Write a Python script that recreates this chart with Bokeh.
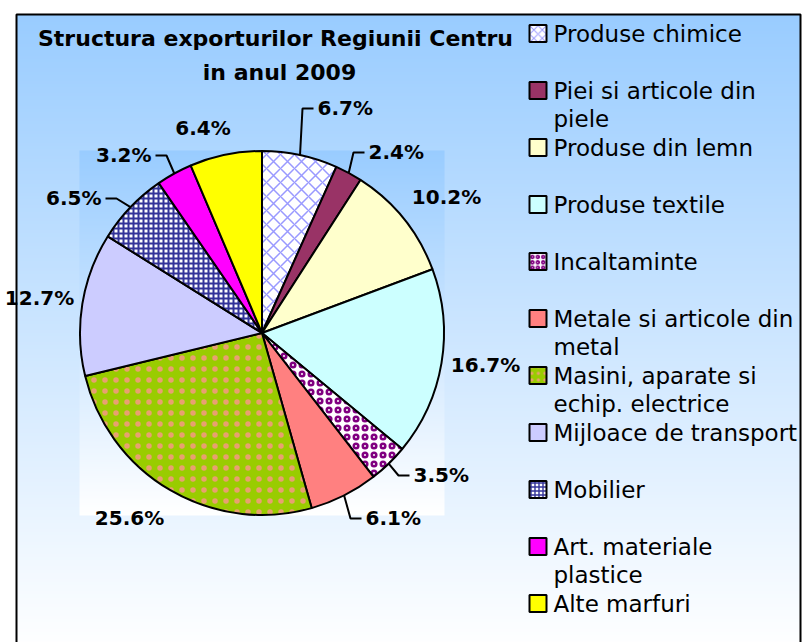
import math
import numpy as np
from bokeh.plotting import figure
from bokeh.models import Range1d
from bokeh.embed import file_html
from bokeh.resources import INLINE
from bokeh.core.properties import value

# ---------------- data ----------------
categories = [
    "Produse chimice",
    "Piei si articole din\npiele",
    "Produse din lemn",
    "Produse textile",
    "Incaltaminte",
    "Metale si articole din\nmetal",
    "Masini, aparate si\nechip. electrice",
    "Mijloace de transport",
    "Mobilier",
    "Art. materiale\nplastice",
    "Alte marfuri",
]
shares = [6.7, 2.4, 10.2, 16.7, 3.5, 6.1, 25.6, 12.7, 6.5, 3.2, 6.4]
title_lines = ["Structura exporturilor Regiunii Centru", "in anul 2009"]

# ---------------- styles ----------------
fill_colors = ["#FFFFFF", "#993366", "#FFFFCC", "#CCFFFF", "#FFFFFF", "#FF8080",
               "#99CC00", "#CCCCFF", "#FFFFFF", "#FF00FF", "#FFFF00"]
hatch_patterns = ["diagonal_cross", None, None, None, "ring", None,
                  "dot", None, "cross", None, None]
hatch_colors = ["#9999FF", None, None, None, "#800080", None,
                "#E8A070", None, "#333399", None, None]
hatch_scales = [14, 1, 1, 1, 9, 1, 11, 1, 5, 1, 1]
hatch_weights = [1.5, 1, 1, 1, 2.5, 1, 2, 1, 2, 1, 1]

# label layout: (x anchor, center y in screen px, align, leader)
label_layout = [
    (317, 108, "left", True),
    (368, 152, "left", True),
    (446, 197, "center", False),
    (485, 365, "center", False),
    (413, 475, "left", True),
    (365, 518, "left", True),
    (129, 518, "center", False),
    (39, 298, "center", False),
    (101, 198, "right", True),
    (151, 155, "right", True),
    (202.5, 128, "center", False),
]

W, H = 802, 642
TXT_SHIFT = 8  # compensation for text baseline placement


def Y(sy):
    return H - sy


FONT = value("DejaVu Sans")

p = figure(width=W, height=H, x_range=Range1d(0, W), y_range=Range1d(0, H),
           output_backend="svg", toolbar_location=None, min_border=0,
           x_axis_type=None, y_axis_type=None)
p.grid.visible = False
p.outline_line_color = None
p.background_fill_color = "white"
p.border_fill_color = "white"


def grad_img(n, top, bottom):
    img = np.empty((n, 1), dtype=np.uint32)
    view = img.view(dtype=np.uint8).reshape((n, 1, 4))
    for i in range(n):
        t = i / (n - 1)
        for k in range(3):
            view[i, 0, k] = int(round(bottom[k] + (top[k] - bottom[k]) * t))
        view[i, 0, 3] = 255
    return img


SKY = (153, 204, 255)
WHITE = (255, 255, 255)

# chart area gradient
outer_top, outer_bottom = 14, 650
p.image_rgba(image=[grad_img(outer_bottom - outer_top, SKY, WHITE)],
             x=16, y=Y(outer_bottom), dw=800 - 16, dh=outer_bottom - outer_top)

# plot area gradient
pa_left, pa_right, pa_top, pa_bottom = 79, 444, 150, 515
p.image_rgba(image=[grad_img(pa_bottom - pa_top, SKY, WHITE)],
             x=pa_left, y=Y(pa_bottom), dw=pa_right - pa_left, dh=pa_bottom - pa_top)

# frame border
p.quad(left=[16], right=[800], top=[Y(14)], bottom=[Y(680)],
       fill_color=None, line_color="black", line_width=2)

# ---------------- pie ----------------
cx, cy, R = 261.5, Y(332.5), 182
total = sum(shares)
cum = 0.0
mids = []
for i, s in enumerate(shares):
    a0 = math.pi / 2 - 2 * math.pi * cum / total
    a1 = math.pi / 2 - 2 * math.pi * (cum + s) / total
    mids.append(math.pi / 2 - 2 * math.pi * (cum + s / 2) / total)
    cum += s
    kw = dict(fill_color=fill_colors[i], line_color="black", line_width=2)
    if hatch_patterns[i]:
        kw.update(hatch_pattern=hatch_patterns[i], hatch_color=hatch_colors[i],
                  hatch_scale=hatch_scales[i], hatch_weight=hatch_weights[i])
    p.wedge(x=[cx], y=[cy], radius=R, start_angle=[a0], end_angle=[a1],
            direction="clock", **kw)

# ---------------- labels ----------------
for i, s in enumerate(shares):
    lx, ly, align, leader = label_layout[i]
    txt = f"{s:.1f}%"
    p.text(x=[lx], y=[Y(ly) - 7.3 + TXT_SHIFT], text=[txt], text_font=FONT,
           text_font_style="bold", text_font_size="20px", text_align=align,
           text_baseline="alphabetic", text_color="black")
    if leader:
        ex = cx + R * math.cos(mids[i])
        ey = cy + R * math.sin(mids[i])
        if align == "left":
            end_x = lx - 4
            elbow_x = end_x - 11
        else:
            end_x = lx + 4
            elbow_x = end_x + 11
        p.line(x=[ex, elbow_x, end_x], y=[ey, Y(ly), Y(ly)],
               line_color="black", line_width=2)

# ---------------- title ----------------
p.text(x=[275], y=[Y(47) + 9], text=[title_lines[0]], text_font=FONT,
       text_font_style="bold", text_font_size="22px", text_align="center",
       text_baseline="alphabetic", text_color="black")
p.text(x=[279], y=[Y(81) + 9], text=[title_lines[1]], text_font=FONT,
       text_font_style="bold", text_font_size="22px", text_align="center",
       text_baseline="alphabetic", text_color="black")

# ---------------- legend ----------------
leg_sq_x, leg_txt_x = 537.5, 553
leg_y0, leg_step, leg_line = 33, 57, 28.5
for i, cat in enumerate(categories):
    yc = leg_y0 + leg_step * i
    kw = dict(fill_color=fill_colors[i], line_color="black", line_width=2)
    if hatch_patterns[i]:
        kw.update(hatch_pattern=hatch_patterns[i], hatch_color=hatch_colors[i],
                  hatch_scale=max(4, hatch_scales[i] * 0.6),
                  hatch_weight=hatch_weights[i] * 0.7)
    p.rect(x=[leg_sq_x], y=[Y(yc)], width=17, height=17, **kw)
    for j, line in enumerate(cat.split("\n")):
        p.text(x=[leg_txt_x], y=[Y(yc + j * leg_line) - 8.4 + TXT_SHIFT], text=[line],
               text_font=FONT, text_font_size="23px", text_align="left",
               text_baseline="alphabetic", text_color="black")

open("out.html", "w").write(file_html(p, INLINE))
